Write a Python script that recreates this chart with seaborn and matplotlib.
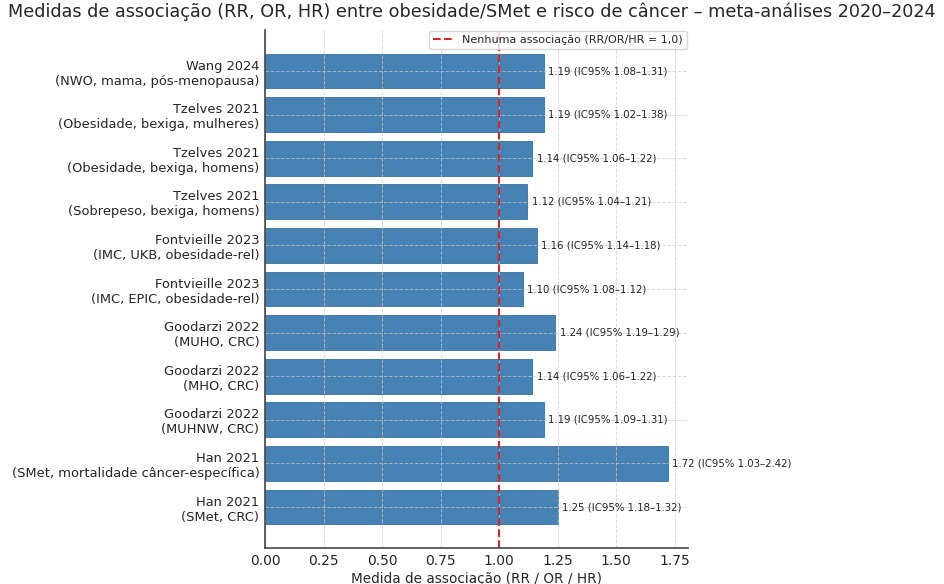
import matplotlib
matplotlib.use("Agg")
import matplotlib.pyplot as plt
import seaborn as sns
import pandas as pd

# Estudos (de cima para baixo) e respectivas estimativas com IC95%
estudos = [
    "Wang 2024\n(NWO, mama, pós-menopausa)",
    "Tzelves 2021\n(Obesidade, bexiga, mulheres)",
    "Tzelves 2021\n(Obesidade, bexiga, homens)",
    "Tzelves 2021\n(Sobrepeso, bexiga, homens)",
    "Fontvieille 2023\n(IMC, UKB, obesidade-rel)",
    "Fontvieille 2023\n(IMC, EPIC, obesidade-rel)",
    "Goodarzi 2022\n(MUHO, CRC)",
    "Goodarzi 2022\n(MHO, CRC)",
    "Goodarzi 2022\n(MUHNW, CRC)",
    "Han 2021\n(SMet, mortalidade câncer-específica)",
    "Han 2021\n(SMet, CRC)",
]
estimativa = [1.19, 1.19, 1.14, 1.12, 1.16, 1.10, 1.24, 1.14, 1.19, 1.72, 1.25]
ic_inf = [1.08, 1.02, 1.06, 1.04, 1.14, 1.08, 1.19, 1.06, 1.09, 1.03, 1.18]
ic_sup = [1.31, 1.38, 1.22, 1.21, 1.18, 1.12, 1.29, 1.22, 1.31, 2.42, 1.32]
marcas_x = [0, 0.25, 0.5, 0.75, 1.0, 1.25, 1.5, 1.75]

df = pd.DataFrame({"estudo": estudos, "valor": estimativa,
                   "lo": ic_inf, "hi": ic_sup})

sns.set_style("white")
plt.rcParams["font.family"] = ["DejaVu Sans"]

fig = plt.figure(figsize=(9.44, 5.84), dpi=100)
ax = fig.add_axes([0.2807, 0.0616, 0.448, 0.887])

sns.barplot(data=df, x="valor", y="estudo", orient="h", color="steelblue",
            saturation=1, width=0.8, edgecolor="#3a6f9c", linewidth=0.6, ax=ax)

ax.set_ylim(len(estudos) - 1 + 0.94, -0.94)
ax.set_xlim(0, max(estimativa) * 1.05)

ax.axvline(1.0, color="#d62728", linestyle="--", linewidth=1.5,
           label="Nenhuma associação (RR/OR/HR = 1,0)", zorder=4)

for i, row in df.iterrows():
    ax.text(row["valor"] + 0.02, i,
            f"{row['valor']:.2f} (IC95% {row['lo']:.2f}–{row['hi']:.2f})",
            va="center", ha="left", fontsize=7.3, color="#222222", zorder=5)

ax.set_axisbelow(False)
ax.grid(True, linestyle="--", linewidth=0.7, color="#cccccc", alpha=0.7)
sns.despine(ax=ax)
for s in ("left", "bottom"):
    ax.spines[s].set_color("#444444")
    ax.spines[s].set_linewidth(1.2)
    ax.spines[s].set_zorder(6)

ax.set_xticks(marcas_x)
ax.tick_params(axis="x", labelsize=10, length=0, pad=4)
ax.tick_params(axis="y", labelsize=9.4, length=2, pad=2, color="#444444")
ax.set_ylabel("")
ax.set_xlabel("Medida de associação (RR / OR / HR)", fontsize=9.8, labelpad=3)

ax.legend(loc="upper right", fontsize=8, frameon=True, borderaxespad=0.1,
          handlelength=1.8, borderpad=0.35)

fig.suptitle("Medidas de associação (RR, OR, HR) entre obesidade/SMet e risco de câncer – meta-análises 2020–2024",
             fontsize=12.7, x=0.5, y=0.995, va="top")

fig.savefig("out.png", dpi=100)
